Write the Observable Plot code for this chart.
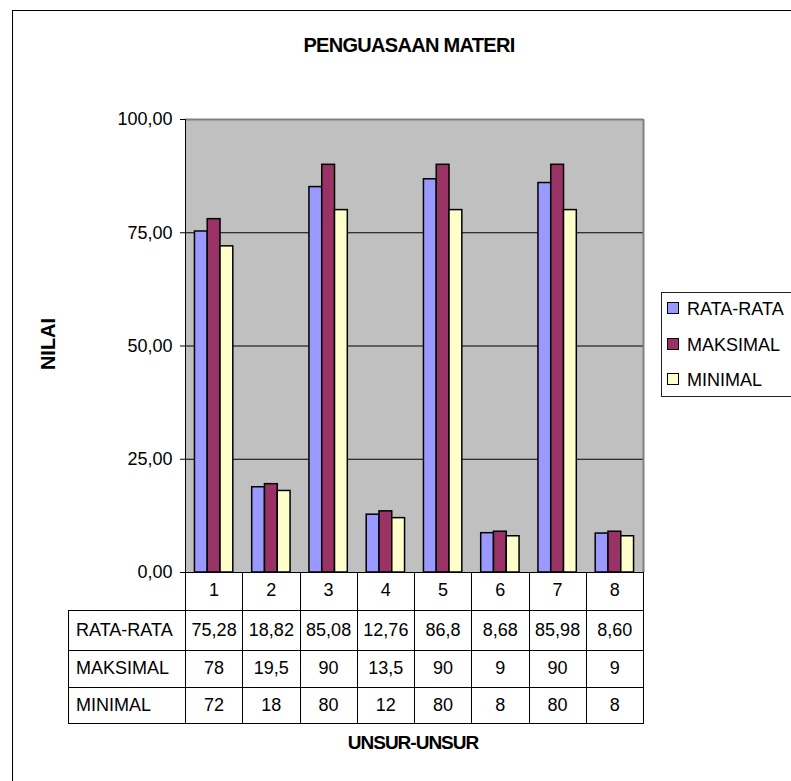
<!DOCTYPE html>
<html>
<head>
<meta charset="utf-8">
<script src="https://cdn.jsdelivr.net/npm/d3@7"></script>
<script src="https://cdn.jsdelivr.net/npm/@observablehq/plot@0.6"></script>
<style>
  html, body { margin: 0; padding: 0; overflow: hidden; background: white; }
  #wrap { position: relative; width: 791px; height: 781px; overflow: hidden; font-family: "Liberation Sans", Arial, sans-serif; color: black; }
  #outer { position: absolute; left: 12px; top: 10px; width: 900px; height: 900px; border: 1px solid black; box-sizing: border-box; }
  #chart { position: absolute; left: 0; top: 0; }
  #title { position: absolute; left: 409px; top: 34px; transform: translateX(-50%); font-weight: bold; font-size: 20px; letter-spacing: -0.7px; line-height: 22px; white-space: nowrap; }
  #ytitle { position: absolute; left: 48px; top: 344px; transform: translate(-50%, -50%) rotate(-90deg); font-weight: bold; font-size: 20px; line-height: 20px; white-space: nowrap; }
  #xtitle { position: absolute; left: 413px; top: 733px; transform: translateX(-50%); font-weight: bold; font-size: 19px; letter-spacing: -1px; line-height: 20px; white-space: nowrap; }
  #legend { position: absolute; left: 661px; top: 292px; width: 240px; height: 105px; border: 1px solid #222; box-sizing: border-box; font-size: 18px; }
  .li { position: absolute; left: 5px; height: 20px; line-height: 20px; white-space: nowrap; }
  .sw { display: inline-block; width: 10px; height: 10px; border: 1px solid black; vertical-align: middle; margin-right: 8px; position: relative; top: -2px; }
  #table { position: absolute; left: 68px; top: 572px; border-collapse: collapse; table-layout: fixed; font-size: 18px; }
  #table td { padding: 0; text-align: center; white-space: nowrap; }
  #table td.lab { text-align: left; padding-left: 7px; }
</style>
</head>
<body>
<div id="wrap">
  <div id="outer"></div>
  <div id="chart"></div>
  <div id="title">PENGUASAAN MATERI</div>
  <div id="ytitle">NILAI</div>
  <div id="xtitle">UNSUR-UNSUR</div>
  <div id="legend"></div>
  <table id="table"></table>
</div>
<script>
const categories = ["1", "2", "3", "4", "5", "6", "7", "8"];
const seriesNames = ["RATA-RATA", "MAKSIMAL", "MINIMAL"];
const seriesColors = ["#9999ff", "#993366", "#ffffcc"];
const rataRata = [75.28, 18.82, 85.08, 12.76, 86.8, 8.68, 85.98, 8.60];
const maksimal = [78, 19.5, 90, 13.5, 90, 9, 90, 9];
const minimal = [72, 18, 80, 12, 80, 8, 80, 8];
const rataLabels = ["75,28", "18,82", "85,08", "12,76", "86,8", "8,68", "85,98", "8,60"];
const maksLabels = ["78", "19,5", "90", "13,5", "90", "9", "90", "9"];
const minLabels = ["72", "18", "80", "12", "80", "8", "80", "8"];
const yTicks = [0, 25, 50, 75, 100];

const seriesValues = [rataRata, maksimal, minimal];
const seriesLabels = [rataLabels, maksLabels, minLabels];

const bars = [];
categories.forEach((c, i) => {
  seriesValues.forEach((vals, s) => {
    bars.push({unsur: i + 1, s, seri: seriesNames[s], nilai: vals[i]});
  });
});

const half = 0.335;
const bw = (2 * half) / 3;

const chart = Plot.plot({
  width: 791,
  height: 600,
  marginLeft: 185,
  marginRight: 148,
  marginTop: 119,
  marginBottom: 28,
  style: {background: "transparent", fontFamily: "'Liberation Sans', Arial, sans-serif", fontSize: "18px", color: "black", overflow: "visible"},
  x: {type: "linear", domain: [0.5, categories.length + 0.5], axis: null},
  y: {domain: [0, 100], ticks: yTicks, tickFormat: d => d.toFixed(2).replace(".", ","), tickSize: 5, tickPadding: 8, label: null},
  color: {domain: seriesNames, range: seriesColors},
  marks: [
    Plot.frame({fill: "#c0c0c0", stroke: "none"}),
    Plot.ruleY([25, 50, 75], {stroke: "black", strokeWidth: 1}),
    Plot.ruleY([100], {stroke: "#808080", strokeWidth: 2}),
    Plot.ruleX([categories.length + 0.5], {stroke: "#808080", strokeWidth: 2}),
    Plot.rectY(bars, {
      x1: d => d.unsur - half + d.s * bw,
      x2: d => d.unsur - half + (d.s + 1) * bw,
      y1: 0,
      y2: "nilai",
      fill: "seri",
      stroke: "black",
      strokeWidth: 1.5
    }),
    Plot.ruleY([0], {stroke: "black", strokeWidth: 1}),
    Plot.ruleX([0.5], {stroke: "black", strokeWidth: 1})
  ]
});
document.getElementById("chart").appendChild(chart);

// legend
const legend = document.getElementById("legend");
const legendTops = [6, 42, 77];
seriesNames.forEach((name, s) => {
  const item = document.createElement("div");
  item.className = "li";
  item.style.top = legendTops[s] + "px";
  item.innerHTML = `<span class="sw" style="background:${seriesColors[s]}"></span>${name}`;
  legend.appendChild(item);
});

// data table
const table = document.getElementById("table");
const bandW = (791 - 185 - 148) / categories.length;
const colgroup = document.createElement("colgroup");
colgroup.innerHTML = `<col style="width:117px">` + categories.map(() => `<col style="width:${bandW}px">`).join("");
table.appendChild(colgroup);
table.style.width = (117 + bandW * categories.length) + "px";

const hdr = document.createElement("tr");
hdr.style.height = "38px";
hdr.innerHTML = `<td style="border:none"></td>` + categories.map(c =>
  `<td style="border-left:1px solid black;border-right:1px solid black;border-top:none;border-bottom:1px solid black">${c}</td>`).join("");
table.appendChild(hdr);

const rowHeights = [40, 37, 36];
seriesNames.forEach((name, s) => {
  const tr = document.createElement("tr");
  tr.style.height = rowHeights[s] + "px";
  tr.innerHTML = `<td class="lab" style="border:1px solid black">${name}</td>` +
    seriesLabels[s].map(v => `<td style="border:1px solid black">${v}</td>`).join("");
  table.appendChild(tr);
});
</script>
</body>
</html>
